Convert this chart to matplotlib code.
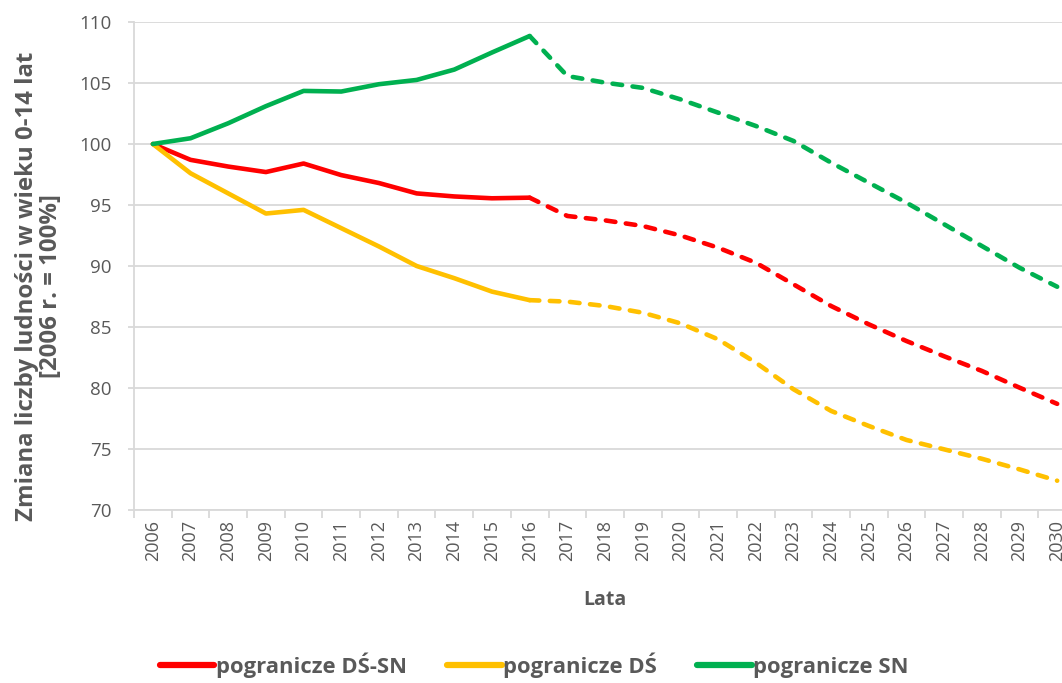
import numpy as np
import matplotlib
matplotlib.use("Agg")
import matplotlib.pyplot as plt
from matplotlib.lines import Line2D

years = list(range(2006, 2031))
# 2006-2016 observed, 2017-2030 projection
dssn = [100, 98.7, 98.15, 97.7, 98.4, 97.45, 96.8, 95.95, 95.7, 95.55, 95.6,
        94.1, 93.74, 93.28, 92.5, 91.5, 90.27, 88.5, 86.72, 85.22, 83.85, 82.6, 81.4, 80.03, 78.7]
ds = [100, 97.6, 95.95, 94.3, 94.6, 93.1, 91.6, 90.0, 89.0, 87.9, 87.2,
      87.08, 86.72, 86.17, 85.3, 83.99, 82.08, 79.9, 78.12, 76.89, 75.74, 74.97, 74.2, 73.33, 72.4]
sn = [100, 100.47, 101.7, 103.1, 104.35, 104.3, 104.9, 105.25, 106.1, 107.5, 108.85,
      105.57, 105.03, 104.6, 103.66, 102.57, 101.48, 100.25, 98.47, 96.83, 95.19, 93.42, 91.64, 89.86, 88.3]
labels = ["pogranicze DŚ-SN", "pogranicze DŚ", "pogranicze SN"]
colors = ["#FF0000", "#FFC000", "#00B050"]
last_real = 2016

plt.rcParams['font.family'] = ['Open Sans', 'DejaVu Sans']
grey = "#595959"
gridc = "#D9D9D9"

fig = plt.figure(figsize=(10.62, 6.83), dpi=100)
ax = fig.add_axes([0.1262, 0.2533, 0.887, 0.7145])

x = np.arange(len(years))
k = years.index(last_real)
for ys, c in zip([dssn, ds, sn], colors):
    ax.plot(x[:k + 1], ys[:k + 1], color=c, lw=3.3, solid_capstyle='round', solid_joinstyle='round', zorder=3)
    ax.plot(x[k:], ys[k:], color=c, lw=3.3, dashes=(2.1, 2.3), dash_capstyle='round', zorder=3)

ax.set_xlim(-0.5, len(years) - 0.5)
ax.set_ylim(70, 110)
ax.set_yticks(range(70, 111, 5))
ax.yaxis.grid(True, color=gridc, lw=1.3)
ax.set_axisbelow(True)
for s in ["top", "right"]:
    ax.spines[s].set_visible(False)
for s in ["left", "bottom"]:
    ax.spines[s].set_color(gridc)
    ax.spines[s].set_linewidth(1.3)

ax.set_xticks(x)
ax.set_xticklabels([str(y) for y in years], rotation=90, fontsize=13, color=grey)
ax.tick_params(axis='x', which='major', length=0, pad=7)
ax.set_xticks(np.arange(-0.5, len(years), 1), minor=True)
ax.tick_params(axis='x', which='minor', length=6, color=gridc, width=1.3)
ax.tick_params(axis='y', length=4, color=gridc, width=1.3, labelsize=13.5, labelcolor=grey, pad=12)

ax.set_xlabel("Lata", fontsize=14, fontweight='bold', color=grey, labelpad=21)
ax.set_ylabel("Zmiana liczby ludności w wieku 0-14 lat\n[2006 r. = 100%]", fontsize=17.3,
              fontweight='bold', color=grey, linespacing=1.0)
ax.yaxis.set_label_coords(-0.0755, 0.459)

handles = [Line2D([0], [0], color=c, lw=4.5, solid_capstyle='round') for c in colors]
fig.legend(handles, labels, loc='center', bbox_to_anchor=(0.503, 0.026), ncol=3, frameon=False,
           prop={'weight': 'bold', 'size': 15.8}, labelcolor=grey, handlelength=2.5,
           handletextpad=0.08, columnspacing=1.8, borderpad=0)

fig.savefig("out.png", dpi=100)
